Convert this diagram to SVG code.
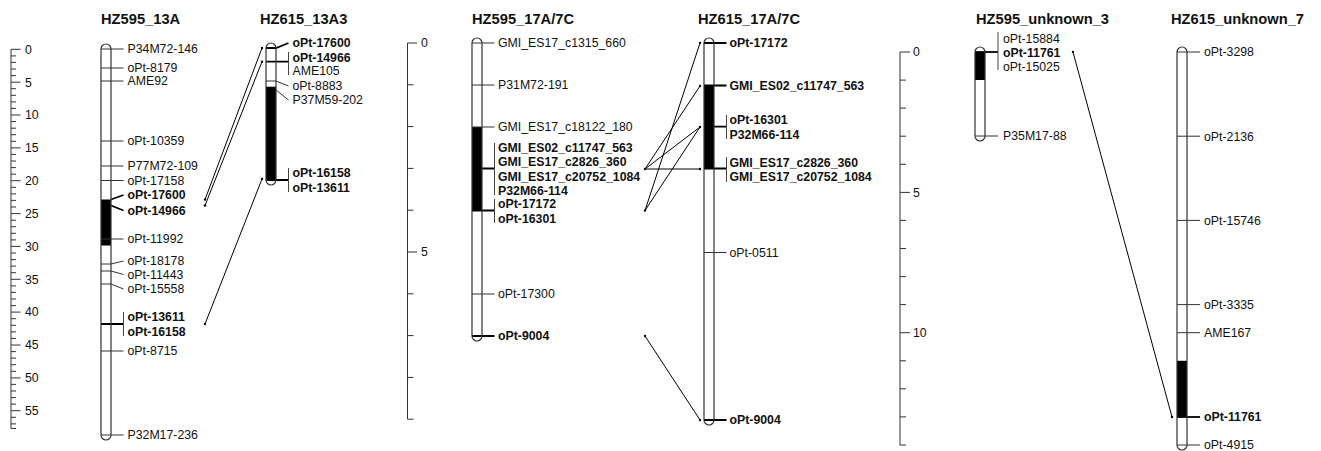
<svg xmlns="http://www.w3.org/2000/svg" width="1321" height="451" viewBox="0 0 1321 451">
<style>
text{font-family:"Liberation Sans",Arial,Helvetica,sans-serif;fill:#111}
.lb{font-size:12.3px}
.lbb{font-size:12.3px;font-weight:bold}
.ttl{font-size:14.7px;font-weight:bold}
.ol{fill:none;stroke:#333;stroke-width:1.2}
.bg{fill:#fff}
.blk{fill:#000}
.mk{fill:none;stroke:#333;stroke-width:1}
.mkb{fill:none;stroke:#000;stroke-width:1.8}
.br{fill:none;stroke:#444;stroke-width:1}
.ax{fill:none;stroke:#333;stroke-width:1}
.cn line{stroke:#000;stroke-width:1}
.cn circle{fill:#000}
</style>
<rect width="1321" height="451" fill="#fff"/>

<!-- Ruler 1 -->
<g id="ruler1">
<path class="ax" d="M11,49.3V428.5M11,49.3h9.5M11,55.9h5M11,62.4h5M11,69h5M11,75.6h5M11,82.2h9.5M11,88.7h5M11,95.3h5M11,101.9h5M11,108.4h5M11,115h9.5M11,121.6h5M11,128.2h5M11,134.7h5M11,141.3h5M11,147.9h9.5M11,154.4h5M11,161h5M11,167.6h5M11,174.2h5M11,180.7h9.5M11,187.3h5M11,193.9h5M11,200.4h5M11,207h5M11,213.6h9.5M11,220.2h5M11,226.7h5M11,233.3h5M11,239.9h5M11,246.4h9.5M11,253h5M11,259.6h5M11,266.1h5M11,272.7h5M11,279.3h9.5M11,285.9h5M11,292.4h5M11,299h5M11,305.6h5M11,312.1h9.5M11,318.7h5M11,325.3h5M11,331.9h5M11,338.4h5M11,345h9.5M11,351.6h5M11,358.1h5M11,364.7h5M11,371.3h5M11,377.9h9.5M11,384.4h5M11,391h5M11,397.6h5M11,404.1h5M11,410.7h9.5M11,417.3h5M11,423.9h5M11,428.5h5"/>
<text class="lb" x="25" y="53.6">0</text>
<text class="lb" x="25" y="86.5">5</text>
<text class="lb" x="25" y="119.3">10</text>
<text class="lb" x="25" y="152.2">15</text>
<text class="lb" x="25" y="185">20</text>
<text class="lb" x="25" y="217.9">25</text>
<text class="lb" x="25" y="250.7">30</text>
<text class="lb" x="25" y="283.6">35</text>
<text class="lb" x="25" y="316.4">40</text>
<text class="lb" x="25" y="349.3">45</text>
<text class="lb" x="25" y="382.2">50</text>
<text class="lb" x="25" y="415">55</text>
</g>

<!-- Ruler 2 -->
<g id="ruler2">
<path class="ax" d="M407.5,43V419.2M407.5,43h9.5M407.5,84.8h6M407.5,126.6h6M407.5,168.4h6M407.5,210.2h6M407.5,252h9.5M407.5,293.8h6M407.5,335.6h6M407.5,377.4h6M407.5,419.2h6"/>
<text class="lb" x="421" y="47.3">0</text>
<text class="lb" x="421" y="256.3">5</text>
</g>

<!-- Ruler 3 -->
<g id="ruler3">
<path class="ax" d="M900,52V445M900,52h10M900,80.1h6M900,108.1h6M900,136.2h6M900,164.3h6M900,192.4h10M900,220.4h6M900,248.5h6M900,276.6h6M900,304.6h6M900,332.7h10M900,360.8h6M900,388.8h6M900,416.9h6M900,445h6"/>
<text class="lb" x="913" y="56.3">0</text>
<text class="lb" x="913" y="196.7">5</text>
<text class="lb" x="913" y="337">10</text>
</g>

<!-- HZ595_13A -->
<g id="HZ595_13A">
<text class="ttl" x="101" y="24">HZ595_13A</text>
<path class="bg" d="M101,49V435A5,5 0 0 0 111,435V49A5,5 0 0 0 101,49Z"/>
<rect class="blk" x="101" y="199.5" width="10" height="46"/>
<path class="mk" d="M101,49H123.5M101,68H123.5M101,81H123.5M101,141H123.5M101,166H123.5M101,180.5H123.5M101,239H123.5M101,264H111L123.5,261M101,271H111L123.5,274.5M101,284H111L123.5,289M101,351H123.5M101,435H123.5"/>
<path class="mkb" d="M111,199.5L123.5,195M111,205.5L123.5,210.5M101,324H123.5"/>
<path class="br" d="M123.5,312V336"/>
<path class="ol" d="M101,49V435A5,5 0 0 0 111,435V49A5,5 0 0 0 101,49Z"/>
<text class="lb" x="127.5" y="53.3">P34M72-146</text>
<text class="lb" x="127.5" y="72.3">oPt-8179</text>
<text class="lb" x="127.5" y="85.3">AME92</text>
<text class="lb" x="127.5" y="145.3">oPt-10359</text>
<text class="lb" x="127.5" y="170.3">P77M72-109</text>
<text class="lb" x="127.5" y="184.8">oPt-17158</text>
<text class="lbb" x="127.5" y="199.3">oPt-17600</text>
<text class="lbb" x="127.5" y="214.8">oPt-14966</text>
<text class="lb" x="127.5" y="243.3">oPt-11992</text>
<text class="lb" x="127.5" y="265.3">oPt-18178</text>
<text class="lb" x="127.5" y="278.8">oPt-11443</text>
<text class="lb" x="127.5" y="293.3">oPt-15558</text>
<text class="lbb" x="127.5" y="321.3">oPt-13611</text>
<text class="lbb" x="127.5" y="336.3">oPt-16158</text>
<text class="lb" x="127.5" y="355.3">oPt-8715</text>
<text class="lb" x="127.5" y="439.3">P32M17-236</text>
</g>

<!-- HZ615_13A3 -->
<g id="HZ615_13A3">
<text class="ttl" x="260" y="24">HZ615_13A3</text>
<path class="bg" d="M266,48V180A5,5 0 0 0 276,180V48A5,5 0 0 0 266,48Z"/>
<rect class="blk" x="266" y="86.7" width="10" height="93.3"/>
<path class="mk" d="M266,81H276L288.5,86M276,90L288.5,100"/>
<path class="mkb" d="M266,48H276L288.5,43M266,61.7H288.5M266,180H288.5"/>
<path class="br" d="M288.5,52V75M288.5,168V192"/>
<path class="ol" d="M266,48V180A5,5 0 0 0 276,180V48A5,5 0 0 0 266,48Z"/>
<text class="lbb" x="292.5" y="47.3">oPt-17600</text>
<text class="lbb" x="292.5" y="61.8">oPt-14966</text>
<text class="lb" x="292.5" y="75.3">AME105</text>
<text class="lb" x="292.5" y="90.3">oPt-8883</text>
<text class="lb" x="292.5" y="104.3">P37M59-202</text>
<text class="lbb" x="292.5" y="177.3">oPt-16158</text>
<text class="lbb" x="292.5" y="192.3">oPt-13611</text>
</g>

<!-- HZ595_17A/7C -->
<g id="HZ595_17A_7C">
<text class="ttl" x="472" y="24">HZ595_17A/7C</text>
<path class="bg" d="M472,43V336A5,5 0 0 0 482,336V43A5,5 0 0 0 472,43Z"/>
<rect class="blk" x="472" y="127" width="10" height="83.5"/>
<path class="mk" d="M472,43H494.5M472,85H494.5M472,127H494.5M472,294H494.5"/>
<path class="mkb" d="M472,168.5H494.5M472,210.5H494.5M472,336H494.5"/>
<path class="br" d="M494.5,143V195M494.5,199V223"/>
<path class="ol" d="M472,43V336A5,5 0 0 0 482,336V43A5,5 0 0 0 472,43Z"/>
<text class="lb" x="498" y="47.3">GMI_ES17_c1315_660</text>
<text class="lb" x="498" y="89.3">P31M72-191</text>
<text class="lb" x="498" y="131.3">GMI_ES17_c18122_180</text>
<text class="lbb" x="498" y="151.8">GMI_ES02_c11747_563</text>
<text class="lbb" x="498" y="166.3">GMI_ES17_c2826_360</text>
<text class="lbb" x="498" y="180.8">GMI_ES17_c20752_1084</text>
<text class="lbb" x="498" y="195.3">P32M66-114</text>
<text class="lbb" x="498" y="208.3">oPt-17172</text>
<text class="lbb" x="498" y="222.8">oPt-16301</text>
<text class="lb" x="498" y="298.3">oPt-17300</text>
<text class="lbb" x="498" y="340.3">oPt-9004</text>
</g>

<!-- HZ615_17A/7C -->
<g id="HZ615_17A_7C">
<text class="ttl" x="698" y="24">HZ615_17A/7C</text>
<path class="bg" d="M704,43V420A5,5 0 0 0 714,420V43A5,5 0 0 0 704,43Z"/>
<rect class="blk" x="704" y="85.5" width="10" height="83"/>
<path class="mk" d="M704,252.5H726.5"/>
<path class="mkb" d="M704,43H726.5M704,85.5H726.5M704,126.7H726.5M704,168.5H726.5M704,420H726.5"/>
<path class="br" d="M726.5,115V139M726.5,157V182"/>
<path class="ol" d="M704,43V420A5,5 0 0 0 714,420V43A5,5 0 0 0 704,43Z"/>
<text class="lbb" x="729.5" y="47.3">oPt-17172</text>
<text class="lbb" x="729.5" y="90.3">GMI_ES02_c11747_563</text>
<text class="lbb" x="729.5" y="123.8">oPt-16301</text>
<text class="lbb" x="729.5" y="138.8">P32M66-114</text>
<text class="lbb" x="729.5" y="166.6">GMI_ES17_c2826_360</text>
<text class="lbb" x="729.5" y="181.3">GMI_ES17_c20752_1084</text>
<text class="lb" x="729.5" y="256.8">oPt-0511</text>
<text class="lbb" x="729.5" y="424.3">oPt-9004</text>
</g>

<!-- HZ595_unknown_3 -->
<g id="HZ595_unknown_3">
<text class="ttl" x="976" y="24">HZ595_unknown_3</text>
<path class="bg" d="M975,52V136A5,5 0 0 0 985,136V52A5,5 0 0 0 975,52Z"/>
<rect class="blk" x="975" y="52" width="10" height="28"/>
<path class="mk" d="M975,136H998"/>
<path class="mkb" d="M975,52H998"/>
<path class="br" d="M998,32V70"/>
<path class="ol" d="M975,52V136A5,5 0 0 0 985,136V52A5,5 0 0 0 975,52Z"/>
<text class="lb" x="1003" y="42.6">oPt-15884</text>
<text class="lbb" x="1003" y="56.6">oPt-11761</text>
<text class="lb" x="1003" y="71">oPt-15025</text>
<text class="lb" x="1003" y="140.3">P35M17-88</text>
</g>

<!-- HZ615_unknown_7 -->
<g id="HZ615_unknown_7">
<text class="ttl" x="1171" y="24">HZ615_unknown_7</text>
<path class="bg" d="M1177,52V445A5,5 0 0 0 1187,445V52A5,5 0 0 0 1177,52Z"/>
<rect class="blk" x="1177" y="360.8" width="10" height="56.2"/>
<path class="mk" d="M1177,52H1200M1177,136.2H1200M1177,220.4H1200M1177,304.6H1200M1177,332.7H1200M1177,445H1200"/>
<path class="mkb" d="M1177,417H1200"/>
<path class="ol" d="M1177,52V445A5,5 0 0 0 1187,445V52A5,5 0 0 0 1177,52Z"/>
<text class="lb" x="1204" y="56.3">oPt-3298</text>
<text class="lb" x="1204" y="140.5">oPt-2136</text>
<text class="lb" x="1204" y="224.7">oPt-15746</text>
<text class="lb" x="1204" y="308.9">oPt-3335</text>
<text class="lb" x="1204" y="337">AME167</text>
<text class="lbb" x="1204" y="421.3">oPt-11761</text>
<text class="lb" x="1204" y="449.3">oPt-4915</text>
</g>

<!-- Connectors -->
<g id="connectors" class="cn">
<line x1="205" y1="199.5" x2="262" y2="48"/>
<line x1="205" y1="205.5" x2="262" y2="61.7"/>
<line x1="205" y1="324" x2="262" y2="179"/>
<line x1="645" y1="169" x2="700" y2="86"/>
<line x1="645" y1="169" x2="700" y2="127"/>
<line x1="645" y1="169" x2="700" y2="169"/>
<line x1="645" y1="210.5" x2="700" y2="43"/>
<line x1="645" y1="210.5" x2="700" y2="127"/>
<line x1="645" y1="336" x2="700" y2="420"/>
<line x1="1073" y1="52" x2="1172" y2="417"/>
<circle cx="205" cy="199.5" r="1.2"/><circle cx="262" cy="48" r="1.2"/>
<circle cx="205" cy="205.5" r="1.2"/><circle cx="262" cy="61.7" r="1.2"/>
<circle cx="205" cy="324" r="1.2"/><circle cx="262" cy="179" r="1.2"/>
<circle cx="645" cy="169" r="1.2"/><circle cx="645" cy="210.5" r="1.2"/>
<circle cx="700" cy="43" r="1.2"/><circle cx="700" cy="86" r="1.2"/>
<circle cx="700" cy="127" r="1.2"/><circle cx="700" cy="169" r="1.2"/>
<circle cx="645" cy="336" r="1.2"/><circle cx="700" cy="420" r="1.2"/>
<circle cx="1073" cy="52" r="1.2"/><circle cx="1172" cy="417" r="1.2"/>
</g>
</svg>
